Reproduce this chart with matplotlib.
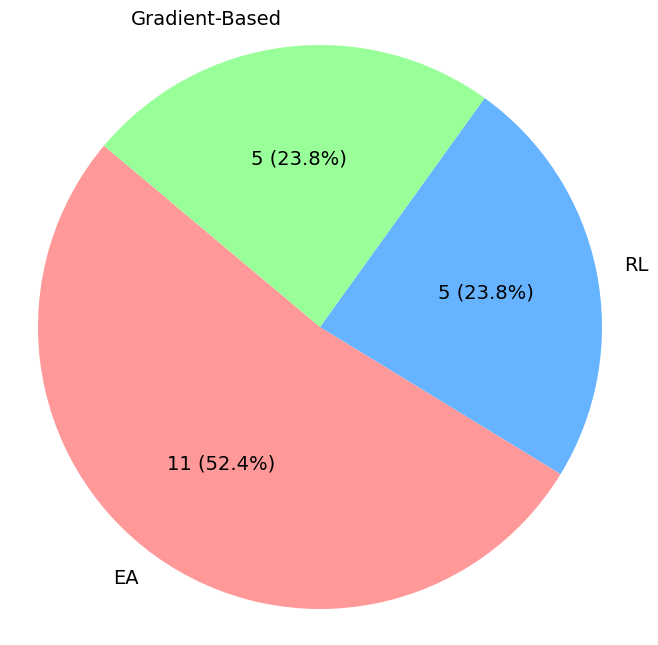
import matplotlib
matplotlib.use("Agg")
import matplotlib.pyplot as plt

labels = ["EA", "RL", "Gradient-Based"]
counts = [11, 5, 5]
colors = ["#ff9999", "#66b3ff", "#99ff99"]

total = sum(counts)


def fmt(pct):
    n = int(round(pct * total / 100.0))
    return f"{n} ({pct:.1f}%)"


fig = plt.figure(figsize=(6.58, 6.45), dpi=100)
ax = fig.add_axes([-32.5 / 658, -34.5 / 645, 705 / 658, 705 / 645])
ax.pie(counts, labels=labels, colors=colors, autopct=fmt, startangle=140,
       textprops={"fontsize": 14})
ax.set_xlim(-1.25, 1.25)
ax.set_ylim(-1.25, 1.25)

fig.savefig("out.png", dpi=100)
